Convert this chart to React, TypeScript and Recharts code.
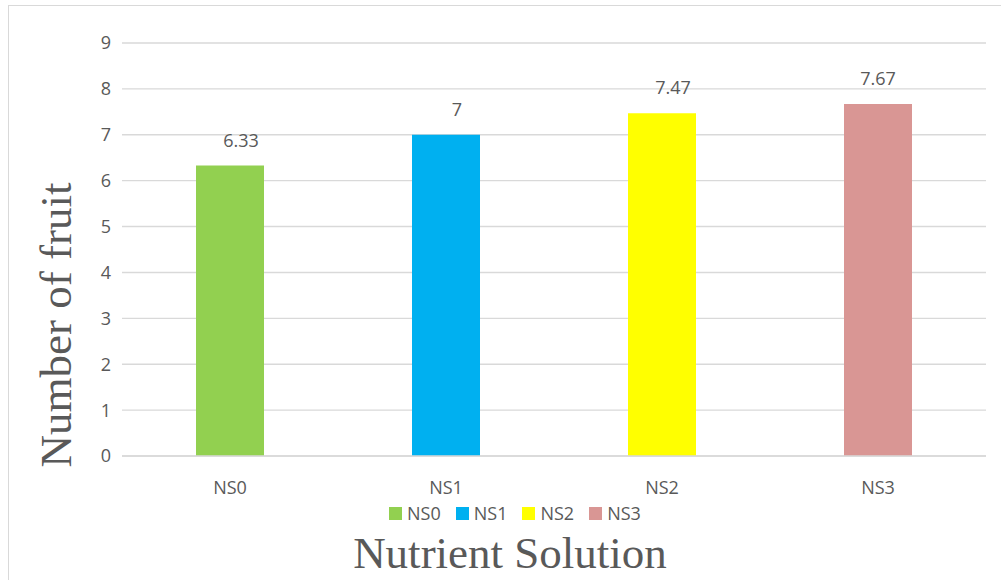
import { Bar, BarChart, CartesianGrid, Cell, Legend, XAxis, YAxis } from 'recharts';

const categories = ['NS0', 'NS1', 'NS2', 'NS3'];
const fruitCount = [6.33, 7, 7.47, 7.67];
const yTicks = [0, 1, 2, 3, 4, 5, 6, 7, 8, 9];

const BAR_COLORS = ['#92D050', '#00B0F0', '#FFFF00', '#D99694'];
// value labels on the first three bars sit a little right of centre
const LABEL_SHIFT = [11, 11, 11, 0];

const TEXT = '#595959';
const GRID = '#d9d9d9';
const SANS = '"Open Sans", sans-serif';
const SERIF = '"Liberation Serif", "Times New Roman", serif';

const data = categories.map((name, i) => ({ name, value: fruitCount[i] }));

const renderValueLabel = (props: any) => {
  const { x, y, width, value, index } = props;
  return (
    <text
      x={Number(x) + Number(width) / 2 + LABEL_SHIFT[index]}
      y={Number(y) - 19}
      textAnchor="middle"
      fill={TEXT}
      fontFamily={SANS}
      fontSize={18}
    >
      {value}
    </text>
  );
};

const LegendContent = () => (
  <div style={{ display: 'flex', alignItems: 'center', fontFamily: SANS, fontSize: 18, color: TEXT }}>
    {categories.map((c, i) => (
      <div key={c} style={{ display: 'flex', alignItems: 'center', marginRight: 15 }}>
        <span style={{ width: 13, height: 13, background: BAR_COLORS[i], marginRight: 5 }} />
        <span style={{ lineHeight: '24px' }}>{c}</span>
      </div>
    ))}
  </div>
);

const App = () => (
  <div
    style={{
      position: 'absolute',
      left: 8,
      top: 5,
      width: 1000,
      height: 580,
      border: `1px solid ${GRID}`,
      background: '#fff',
    }}
  >
    <BarChart
      width={1000}
      height={580}
      data={data}
      margin={{ top: 37, right: 23, bottom: 100, left: 53 }}
    >
      <CartesianGrid stroke={GRID} strokeWidth={1.4} vertical={false} />
      <XAxis
        dataKey="name"
        axisLine={{ stroke: GRID, strokeWidth: 1.4 }}
        tickLine={false}
        tickSize={0}
        tickMargin={25}
        tick={{ fill: TEXT, fontFamily: SANS, fontSize: 18 }}
        label={{
          content: ({ viewBox }: any) => (
            <text
              x={viewBox.x + viewBox.width / 2 - 44}
              y={562}
              textAnchor="middle"
              fill={TEXT}
              fontFamily={SERIF}
              fontSize={45}
            >
              Nutrient Solution
            </text>
          ),
        }}
      />
      <YAxis
        width={60}
        domain={[0, 9]}
        ticks={yTicks}
        interval={0}
        axisLine={false}
        tickLine={false}
        tickSize={0}
        tickMargin={11}
        tick={{ fill: TEXT, fontFamily: SANS, fontSize: 18 }}
        label={{
          content: () => (
            <text
              x={62}
              y={319}
              transform="rotate(-90 62 319)"
              textAnchor="middle"
              fill={TEXT}
              fontFamily={SERIF}
              fontSize={45}
            >
              Number of fruit
            </text>
          ),
        }}
      />
      <Legend
        layout="horizontal"
        verticalAlign="middle"
        align="center"
        content={<LegendContent />}
        wrapperStyle={{ top: 495, left: 380, width: 'auto' }}
      />
      <Bar dataKey="value" barSize={68} isAnimationActive={false} label={renderValueLabel}>
        {data.map((d, i) => (
          <Cell key={d.name} fill={BAR_COLORS[i]} />
        ))}
      </Bar>
    </BarChart>
  </div>
);

export default App;
